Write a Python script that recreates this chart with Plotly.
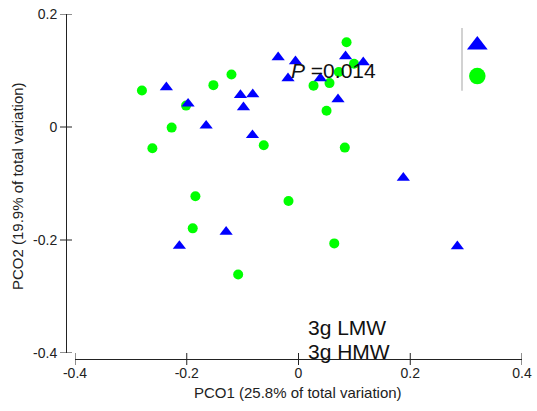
import plotly.graph_objects as go

# PCO ordination scores (PCO1, PCO2) per sample
lmw_pco1 = [-0.2365, -0.1976, -0.1653, -0.1039, -0.0819, -0.0985, -0.0824, -0.0364, -0.0054,
            -0.0188, 0.0391, 0.0842, 0.1159, 0.0707, 0.1876, 0.2843, -0.2132, -0.1295]
lmw_pco2 = [0.0702, 0.0413, 0.0023, 0.0566, 0.0578, 0.0348, -0.0144, 0.1234, 0.1163,
            0.0862, 0.0862, 0.1252, 0.1145, 0.0489, -0.0899, -0.2112, -0.2105, -0.1856]

hmw_pco1 = [-0.2802, -0.1523, -0.1200, -0.2270, -0.2615, -0.0622, -0.2012, 0.0860, 0.0994,
            0.0722, 0.0269, 0.0555, 0.0502, -0.1845, -0.1893, -0.1080, 0.0829, -0.0179, 0.0640]
hmw_pco2 = [0.0645, 0.0741, 0.0929, -0.0011, -0.0376, -0.0323, 0.0379, 0.1500, 0.1119,
            0.0972, 0.0732, 0.0777, 0.0289, -0.1227, -0.1794, -0.2610, -0.0365, -0.1310, -0.2060]

group_names = ["3g LMW", "3g HMW"]
group_colors = ["#0000ff", "#00ff00"]
group_symbols = ["triangle-up", "circle"]

x_ticks = [-0.4, -0.2, 0, 0.2, 0.4]
y_ticks = [-0.4, -0.2, 0, 0.2]
x_tick_text = ["-0.4", "-0.2", "0", "0.2", "0.4"]
y_tick_text = ["-0.4", "-0.2", "0", "0.2"]

x_title = "PCO1 (25.8% of total variation)"
y_title = "PCO2 (19.9% of total variation)"
p_text = "<i>P</i> =0.014"

# key glyph positions (fractions of the plotting area)
key_x = [0.902, 0.902]
key_y = [0.910, 0.820]

FONT = "Arial, Liberation Sans, sans-serif"
INK = "#222222"

W, H = 537, 411
L, R, T, B = 66, 15, 14, 52
TICK_HALF = 6

fig = go.Figure()

fig.add_trace(go.Scatter(
    x=hmw_pco1, y=hmw_pco2, mode="markers", name=group_names[1],
    marker=dict(symbol=group_symbols[1], color=group_colors[1], size=10, line=dict(width=0)),
    showlegend=False,
))
fig.add_trace(go.Scatter(
    x=lmw_pco1, y=lmw_pco2, mode="markers", name=group_names[0],
    marker=dict(symbol=group_symbols[0], color=group_colors[0], size=11.5, line=dict(width=0)),
    showlegend=False,
))

# key glyphs on a hidden unit axis pair
for i in range(2):
    fig.add_trace(go.Scatter(
        x=[key_x[i]], y=[key_y[i]], xaxis="x3", yaxis="y3", mode="markers",
        marker=dict(symbol=group_symbols[i], color=group_colors[i],
                    size=18 if i == 0 else 16.5, line=dict(width=0)),
        showlegend=False, hoverinfo="skip",
    ))

x_dom0 = 9 / 456
y_dom0 = 6 / 345

axis_common = dict(
    showgrid=False, zeroline=False, linecolor=INK, linewidth=1,
    ticks="", tickmode="array", automargin=False,
    tickfont=dict(family=FONT, size=14, color=INK),
)

fig.update_layout(
    template="none",
    width=W, height=H,
    margin=dict(l=L, r=R, t=T, b=B, pad=0, autoexpand=False),
    paper_bgcolor="white", plot_bgcolor="rgba(0,0,0,0)",
    showlegend=False,
    xaxis=dict(
        domain=[x_dom0, 1], range=[-0.4, 0.4], anchor="free", position=0,
        showline=True, tickvals=x_ticks, ticktext=x_tick_text, ticklabelstandoff=1, **axis_common,
    ),
    yaxis=dict(
        domain=[y_dom0, 1], range=[-0.4, 0.2], anchor="free", position=0,
        showline=True, tickvals=y_ticks, ticktext=y_tick_text, ticklabelstandoff=6, **axis_common,
    ),
    xaxis3=dict(domain=[0, 1], range=[0, 1], anchor="y3", visible=False, fixedrange=True),
    yaxis3=dict(domain=[0, 1], range=[0, 1], anchor="x3", visible=False, fixedrange=True),
)

# crossing tick marks centred on each axis line
for v in x_ticks:
    fig.add_shape(type="line", xref="x", yref="paper", ysizemode="pixel", yanchor=0,
                  x0=v, x1=v, y0=-TICK_HALF, y1=TICK_HALF, line=dict(color=INK, width=1))
for v in y_ticks:
    fig.add_shape(type="line", xref="paper", yref="y", xsizemode="pixel", xanchor=0,
                  y0=v, y1=v, x0=-TICK_HALF, x1=TICK_HALF, line=dict(color=INK, width=1))

# divider next to the key glyphs
fig.add_shape(type="line", xref="paper", yref="paper",
              x0=(462 - L) / 456, x1=(462 - L) / 456,
              y0=(359 - 28) / 345, y1=(359 - 90.7) / 345,
              line=dict(color="#b4b4b4", width=1.2))

annos = [
    dict(text=p_text, x=0.063, y=0.100, xref="x", yref="y",
         xanchor="center", yanchor="middle", font=dict(family=FONT, size=21, color="#111111")),
    dict(text=group_names[0], x=(305.7 - L) / 456, y=(359 - 327) / 345, xref="paper", yref="paper",
         xanchor="left", yanchor="middle", font=dict(family=FONT, size=21, color="#111111")),
    dict(text=group_names[1], x=(305.7 - L) / 456, y=(359 - 351) / 345, xref="paper", yref="paper",
         xanchor="left", yanchor="middle", font=dict(family=FONT, size=21, color="#111111")),
    dict(text=x_title, x=(298 - L) / 456, y=0, xref="paper", yref="paper",
         xanchor="center", yanchor="middle", yshift=-33, font=dict(family=FONT, size=15, color=INK)),
    dict(text=y_title, x=0, y=(359 - 186) / 345, xref="paper", yref="paper", textangle=-90,
         xanchor="center", yanchor="middle", xshift=-49, font=dict(family=FONT, size=15, color=INK)),
]
for a in annos:
    fig.add_annotation(showarrow=False, **a)

fig.write_html("out.html")
